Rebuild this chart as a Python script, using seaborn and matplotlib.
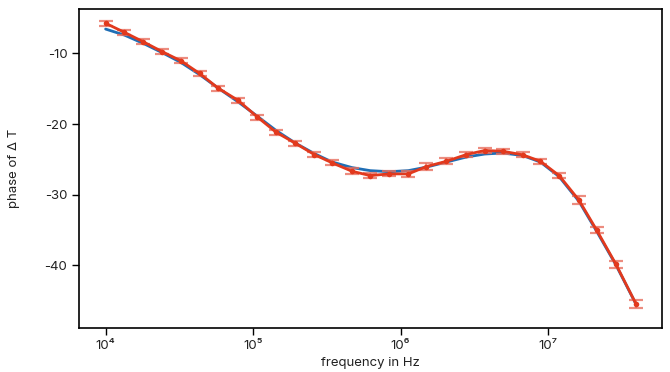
import numpy as np
import pandas as pd
import matplotlib
matplotlib.use("Agg")
import matplotlib.pyplot as plt
import matplotlib.ticker as mticker
import seaborn as sns

# measured frequencies (Hz)
freq = [1.00e4, 1.34e4, 1.80e4, 2.43e4, 3.24e4, 4.34e4, 5.81e4, 7.90e4,
        1.07e5, 1.43e5, 1.93e5, 2.60e5, 3.44e5, 4.69e5, 6.23e5, 8.37e5,
        1.13e6, 1.50e6, 2.05e6, 2.80e6, 3.72e6, 4.93e6, 6.73e6, 8.88e6,
        1.19e7, 1.62e7, 2.14e7, 2.89e7, 3.95e7]

# measured phase (deg) and error
phase = [-5.73, -7.01, -8.35, -9.77, -11.05, -12.84, -14.93, -16.64,
         -19.01, -21.15, -22.71, -24.32, -25.50, -26.69, -27.30, -27.06,
         -27.06, -26.02, -25.27, -24.32, -23.75, -23.85, -24.36, -25.27,
         -27.30, -30.76, -35.03, -39.86, -45.46]
phase_err = [0.35, 0.35, 0.35, 0.35, 0.35, 0.35, 0.35, 0.35,
             0.35, 0.35, 0.35, 0.35, 0.35, 0.45, 0.35, 0.35,
             0.45, 0.45, 0.45, 0.35, 0.35, 0.35, 0.35, 0.35,
             0.40, 0.50, 0.40, 0.50, 0.55]

# model fit
fit_phase = [-6.55, -7.40, -8.58, -9.91, -11.28, -13.00, -14.93, -16.85,
             -18.90, -20.90, -22.68, -24.18, -25.38, -26.17, -26.60, -26.75,
             -26.60, -26.10, -25.38, -24.67, -24.25, -24.10, -24.46, -25.38,
             -27.45, -30.93, -35.20, -39.96, -45.50]

df = pd.DataFrame({"freq": freq, "phase": phase, "err": phase_err, "fit": fit_phase})

sns.set_style("white")
plt.rcParams["font.family"] = ["Inter", "DejaVu Sans"]
plt.rcParams["axes.unicode_minus"] = False

fig = plt.figure(figsize=(6.7, 3.72), dpi=100)
ax = fig.add_axes([0.118, 0.118, 0.870, 0.858])

sns.lineplot(data=df, x="freq", y="fit", color="#1f6eb5", linewidth=2.0, ax=ax)
ax.errorbar(df["freq"], df["phase"], yerr=df["err"], fmt="none",
            ecolor="#e8705f", elinewidth=1.3, capsize=5, capthick=1.6, alpha=0.8)
sns.lineplot(data=df, x="freq", y="phase", color="#e2391d", linewidth=2.0,
             marker="o", markersize=4, markeredgewidth=0, ax=ax)

ax.set_xscale("log")
ax.set_xlim(10**3.82, 10**7.773)
ax.set_ylim(-48.9, -3.7)
ax.set_yticks([-10, -20, -30, -40])

sup = str.maketrans("0123456789", "⁰¹²³⁴⁵⁶⁷⁸⁹")
ax.xaxis.set_major_locator(mticker.FixedLocator([1e4, 1e5, 1e6, 1e7]))
ax.xaxis.set_minor_locator(mticker.NullLocator())
ax.xaxis.set_major_formatter(mticker.FuncFormatter(
    lambda v, p: "10" + str(int(round(np.log10(v)))).translate(sup)))

for s in ax.spines.values():
    s.set_color("black")
    s.set_linewidth(1.2)
ax.tick_params(axis="both", direction="out", length=5, width=1, colors="black",
               labelsize=9.5, labelcolor="#222222", bottom=True, left=True)

ax.set_xlabel("frequency in Hz", fontsize=9.5, color="#222222")
ax.set_ylabel("phase of Δ T", fontsize=9.5, color="#222222", labelpad=18)

fig.savefig("out.png", dpi=100)
